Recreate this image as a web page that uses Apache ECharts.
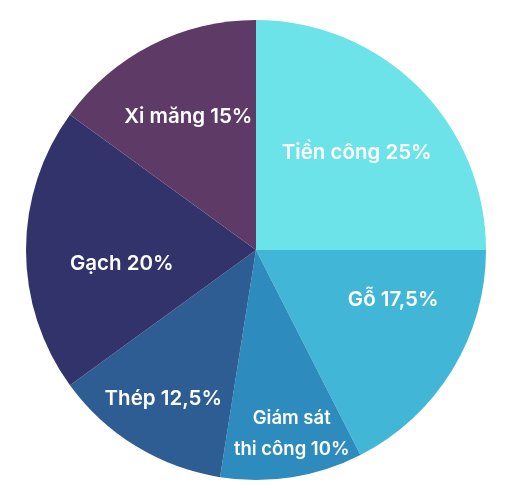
<!DOCTYPE html>
<html><head><meta charset="utf-8">
<script src="https://cdn.jsdelivr.net/npm/echarts@6/dist/echarts.min.js"></script>
<style>html,body{margin:0;padding:0;background:#fff}#c{width:507px;height:488px}</style>
</head><body><div id="c"></div>
<script>
const categories = ['Tiền công', 'Gỗ', 'Giám sát\nthi công', 'Thép', 'Gạch', 'Xi măng'];
const values = [25, 17.5, 10, 12.5, 20, 15];
const valueLabels = ['25%', '17,5%', '10%', '12,5%', '20%', '15%'];

const colors = ['#6BE3E8', '#42B6D6', '#2D8BBD', '#2E5D93', '#31336A', '#5E3A66'];
// label placement: [angle from top clockwise (deg), radius px]
const labelPlace = [[46, 140], [110, 146], [169, 187], [212, 175], [264, 135], [333, 149]];
const fontSizes = [20.5, 20.5, 18.5, 20.5, 20.5, 20.5];
const cx = 256, cy = 250;

const chart = echarts.init(document.getElementById('c'), null, {renderer: 'canvas'});
chart.setOption({
  animation: false,
  series: [{
    type: 'pie',
    center: [cx, cy],
    radius: [0, 230],
    startAngle: 90,
    clockwise: true,
    avoidLabelOverlap: false,
    itemStyle: {borderWidth: 0},
    emphasis: {disabled: true},
    label: {
      show: true,
      position: 'inside',
      color: '#fff',
      fontFamily: 'Inter',
      fontWeight: 600,
      lineHeight: 31,
      align: 'center',
      verticalAlign: 'middle',
      formatter: p => categories[p.dataIndex] + ' ' + valueLabels[p.dataIndex]
    },
    labelLine: {show: false},
    labelLayout: function (p) {
      const [a, r] = labelPlace[p.dataIndex];
      const t = a * Math.PI / 180;
      return {x: cx + r * Math.sin(t), y: cy - r * Math.cos(t), align: 'center', verticalAlign: 'middle'};
    },
    data: categories.map((n, i) => ({
      name: n, value: values[i],
      itemStyle: {color: colors[i]},
      label: {fontSize: fontSizes[i]}
    }))
  }]
});
</script></body></html>
